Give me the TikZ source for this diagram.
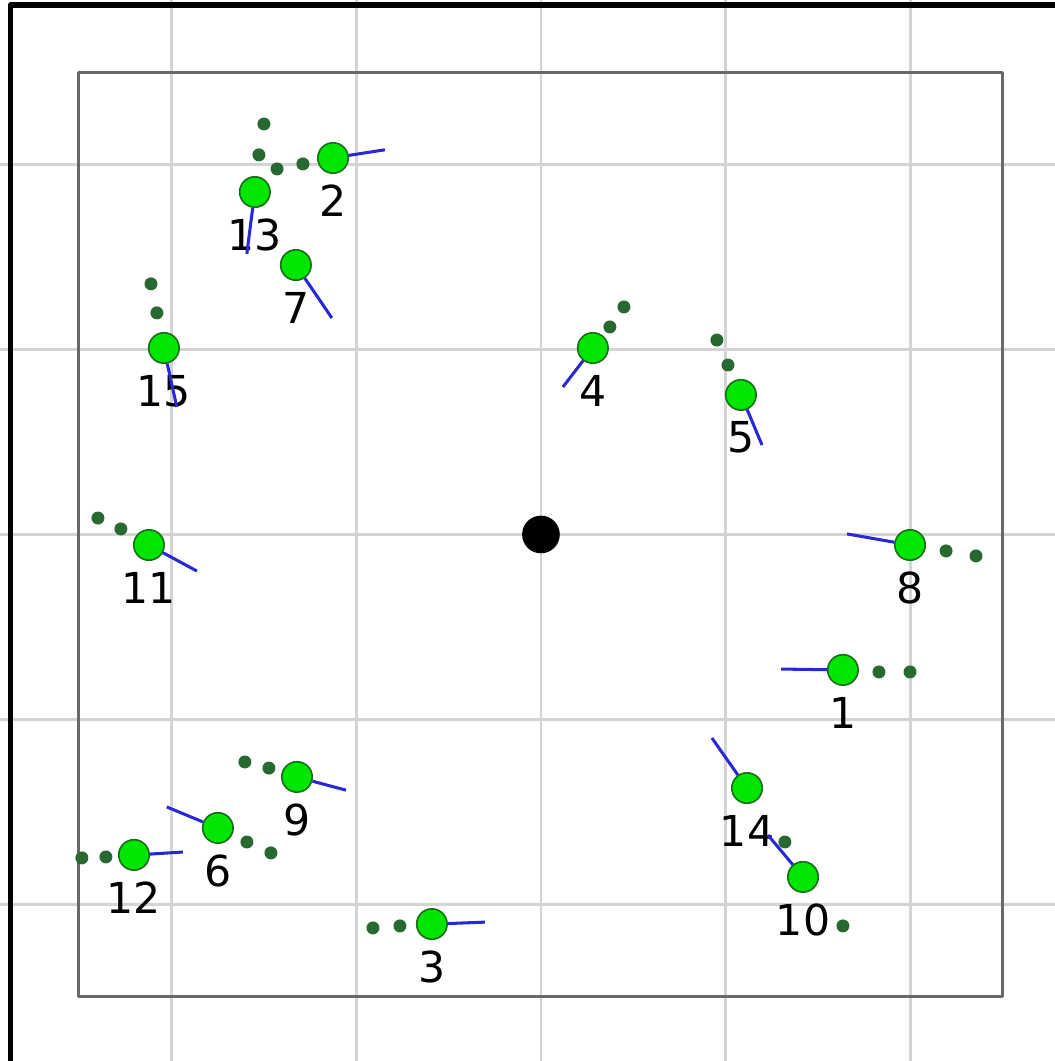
\documentclass[tikz,border=0pt]{standalone}
\usepackage{fontspec}
\setmainfont{DejaVu Sans}
\usepackage{tikz}
\definecolor{agentfill}{RGB}{0,230,0}
\definecolor{agentedge}{RGB}{25,110,25}
\definecolor{trailgreen}{RGB}{40,105,50}
\definecolor{headblue}{RGB}{40,40,215}
\definecolor{gridgray}{RGB}{212,212,212}
\definecolor{wallgray}{RGB}{105,105,105}

\begin{document}
\begin{tikzpicture}[scale=1.6,line join=round,
  agent/.style={circle,draw=agentedge,fill=agentfill,line width=0.4pt,
                minimum size=7.5pt,inner sep=0pt},
  num/.style={font=\fontsize{10.5}{12}\selectfont,inner sep=2.5pt},
  label distance=0pt,
  heading/.style={headblue,line width=0.75pt},
  trail/.style={trailgreen}]

\useasboundingbox (-2.927,-2.849) rectangle (2.781,2.892);

%% ---------------- background: grid, arena walls, window edge -----------
\draw[gridgray,line width=0.7pt] (-2.927,-2.849) grid[step=1] (2.781,2.892);
\draw[wallgray,line width=0.75pt] (-2.5,-2.5) rectangle (2.5,2.5);
\draw[line width=1.3pt] (-2.871,-2.849) -- (-2.871,2.865) -- (2.781,2.865);

%% centre of the arena
\fill (0,0) circle (2.9pt);

%% ---------------- trails (two last positions of each agent) ------------
\fill[trail] (1.829,-0.744) circle (1pt) (1.997,-0.744) circle (1pt);
\fill[trail] (-1.288,2.005) circle (1pt) (-1.428,1.978) circle (1pt);
\fill[trail] (-0.763,-2.118) circle (1pt) (-0.909,-2.129) circle (1pt);
\fill[trail] (0.373,1.123) circle (1pt) (0.449,1.231) circle (1pt);
\fill[trail] (1.012,0.917) circle (1pt) (0.952,1.052) circle (1pt);
\fill[trail] (-1.591,-1.664) circle (1pt) (-1.461,-1.723) circle (1pt);
\fill[trail] (2.192,-0.089) circle (1pt) (2.354,-0.116) circle (1pt);
\fill[trail] (-1.472,-1.264) circle (1pt) (-1.602,-1.231) circle (1pt);
\fill[trail] (1.634,-2.118) circle (1pt);
\fill[trail] (-2.273,0.030) circle (1pt) (-2.397,0.089) circle (1pt);
\fill[trail] (-2.354,-1.745) circle (1pt) (-2.484,-1.750) circle (1pt);
\fill[trail] (-1.526,2.054) circle (1pt) (-1.499,2.221) circle (1pt);
\fill[trail] (1.320,-1.664) circle (1pt);
\fill[trail] (-2.078,1.199) circle (1pt) (-2.110,1.356) circle (1pt);

%% ---------------- agents and where they point ---------------------------
\node[agent,label={[num]below:1}]  (a1)  at (1.634,-0.733) {};
\coordinate (h1)  at (1.299,-0.728);
\node[agent,label={[num]below:2}]  (a2)  at (-1.125,2.037) {};
\coordinate (h2)  at (-0.844,2.081);
\node[agent,label={[num]below:3}]  (a3)  at (-0.590,-2.108) {};
\coordinate (h3)  at (-0.303,-2.097);
\node[agent,label={[num]below:4}]  (a4)  at (0.281,1.009) {};
\coordinate (h4)  at (0.119,0.798);
\node[agent,label={[num]below:5}]  (a5)  at (1.082,0.755) {};
\coordinate (h5)  at (1.196,0.484);
\node[agent,label={[num]below:6}]  (a6)  at (-1.748,-1.588) {};
\coordinate (h6)  at (-2.024,-1.474);
\node[agent,label={[num]below:7}]  (a7)  at (-1.326,1.458) {};
\coordinate (h7)  at (-1.131,1.171);
\node[agent,label={[num]below:8}]  (a8)  at (1.997,-0.057) {};
\coordinate (h8)  at (1.656,0.003);
\node[agent,label={[num]below:9}]  (a9)  at (-1.320,-1.312) {};
\coordinate (h9)  at (-1.055,-1.383);
\node[agent,label={[num]below:10}] (a10) at (1.418,-1.853) {};
\coordinate (h10) at (1.228,-1.626);
\node[agent,label={[num]below:11}] (a11) at (-2.121,-0.057) {};
\coordinate (h11) at (-1.861,-0.198);
\node[agent,label={[num]below:12}] (a12) at (-2.202,-1.734) {};
\coordinate (h12) at (-1.937,-1.718);
\node[agent,label={[num]below:13}] (a13) at (-1.548,1.853) {};
\coordinate (h13) at (-1.591,1.518);
\node[agent,label={[num]below:14}] (a14) at (1.115,-1.372) {};
\coordinate (h14) at (0.925,-1.101);
\node[agent,label={[num]below:15}] (a15) at (-2.040,1.009) {};
\coordinate (h15) at (-1.970,0.690);

%% headings on top, so they cross the numbers as in the recording
\draw[heading] (a1) -- (h1);
\draw[heading] (a2) -- (h2);
\draw[heading] (a3) -- (h3);
\draw[heading] (a4) -- (h4);
\draw[heading] (a5) -- (h5);
\draw[heading] (a6) -- (h6);
\draw[heading] (a7) -- (h7);
\draw[heading] (a8) -- (h8);
\draw[heading] (a9) -- (h9);
\draw[heading] (a10) -- (h10);
\draw[heading] (a11) -- (h11);
\draw[heading] (a12) -- (h12);
\draw[heading] (a13) -- (h13);
\draw[heading] (a14) -- (h14);
\draw[heading] (a15) -- (h15);

\end{tikzpicture}
\end{document}
